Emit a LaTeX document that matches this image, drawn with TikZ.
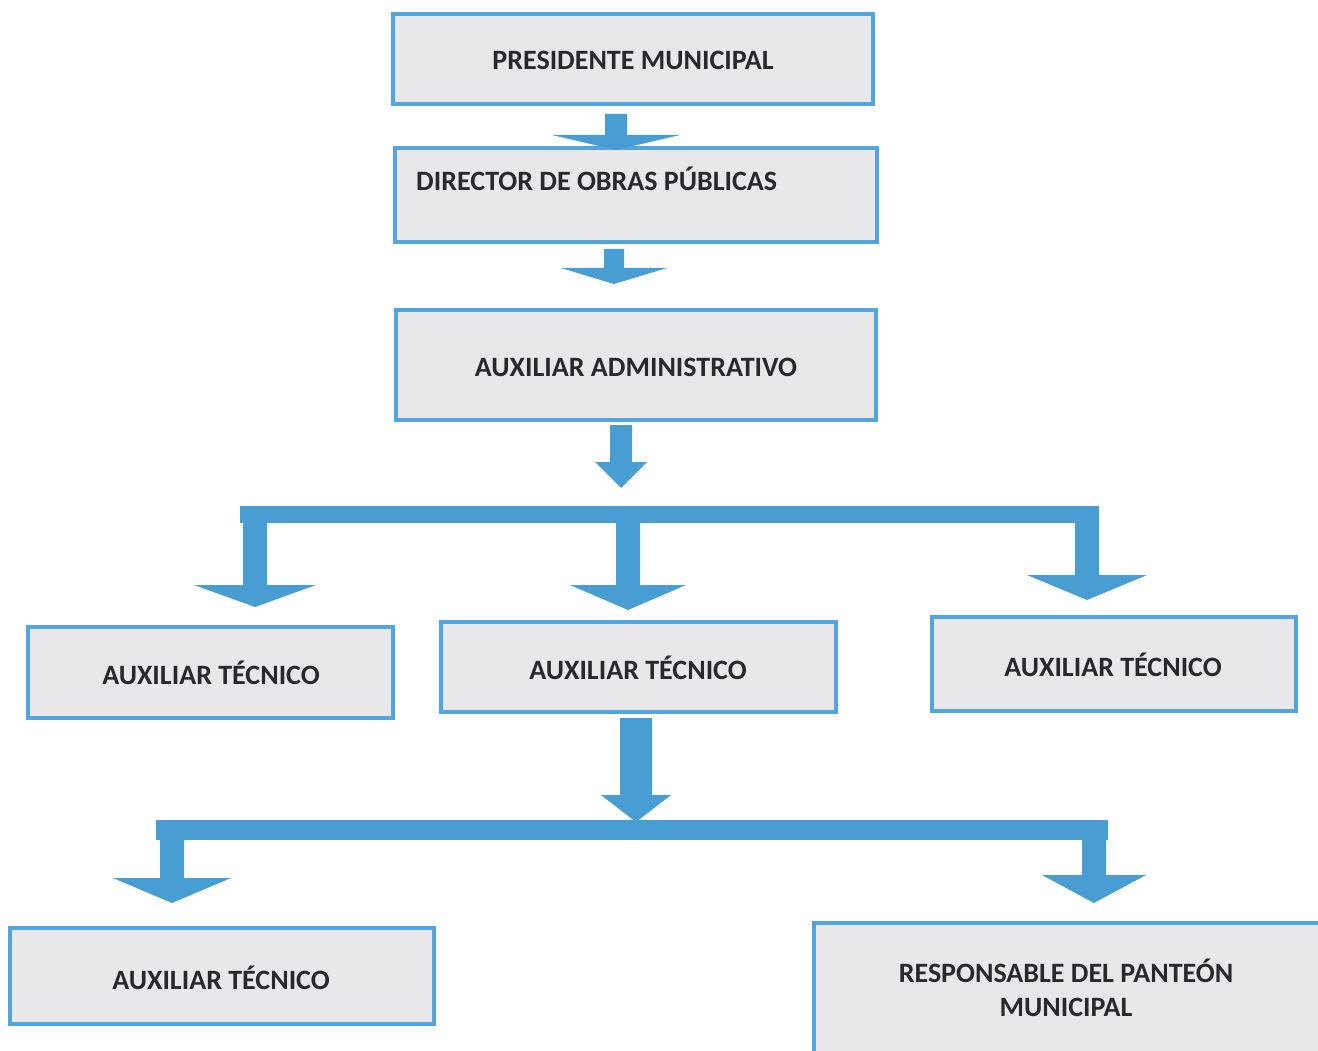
\documentclass[tikz,border=0pt]{standalone}
\usepackage{fontspec}
\setmainfont{Carlito}
\definecolor{boxline}{RGB}{82,165,222}
\definecolor{arrowblue}{RGB}{72,158,210}
\definecolor{marble}{RGB}{232,232,235}
\definecolor{txt}{RGB}{40,40,45}
\newcommand{\dnarrow}[6]{% x, ytop, yheadbase, ytip, shaft half width, head half width
  \fill[arrowblue] (#1-#5,#2) -- (#1+#5,#2) -- (#1+#5,#3) -- (#1+#6,#3) -- (#1,#4) -- (#1-#6,#3) -- (#1-#5,#3) -- cycle;}
\tikzset{
  orgbox/.style={draw=boxline, line width=3.5pt, fill=marble, rectangle, inner sep=0pt},
  lbl/.style={font=\fontsize{28}{34}\selectfont\bfseries, text=txt, align=center, inner sep=0pt},
}
\begin{document}
\begin{tikzpicture}[x=1pt,y=-1pt]
\useasboundingbox (0,0) rectangle (1318,1051);
\clip (0,0) rectangle (1318,1051);
\fill[white] (0,0) rectangle (1318,1051);

% boxes
\node[orgbox, minimum width=480pt, minimum height=90pt] (pres) at (633,59) {};
\node[lbl] (presT) at (633,60) {PRESIDENTE MUNICIPAL};

\node[orgbox, minimum width=482pt, minimum height=94pt] (dir) at (636,195) {};
\node[lbl, anchor=west] (dirT) at (416,179) {DIRECTOR DE OBRAS PÚBLICAS};

\node[orgbox, minimum width=480pt, minimum height=110pt] (adm) at (636,365) {};
\node[lbl] (admT) at (636,367) {AUXILIAR ADMINISTRATIVO};

\node[orgbox, minimum width=365pt, minimum height=91pt] (t1) at (210.5,672.5) {};
\node[lbl] (t1T) at (211,673) {AUXILIAR TÉCNICO};

\node[orgbox, minimum width=395pt, minimum height=90pt] (t2) at (638.5,667) {};
\node[lbl] (t2T) at (638,668) {AUXILIAR TÉCNICO};

\node[orgbox, minimum width=364pt, minimum height=94pt] (t3) at (1114,664) {};
\node[lbl] (t3T) at (1113,665) {AUXILIAR TÉCNICO};

\node[orgbox, minimum width=424pt, minimum height=96pt] (t4) at (222,976) {};
\node[lbl] (t4T) at (221,978) {AUXILIAR TÉCNICO};

\node[orgbox, minimum width=510pt, minimum height=132pt] (resp) at (1069,989) {};
\node[lbl] (respT) at (1066,988) {RESPONSABLE DEL PANTEÓN\\MUNICIPAL};

% block arrows
\dnarrow{616}{114}{135}{150}{11}{64}
\dnarrow{614}{249}{268}{284}{10}{53}
\dnarrow{621}{425}{462}{488}{11}{26}

% first bus
\fill[arrowblue] (240,506) rectangle (1099,523);
\dnarrow{255}{515}{585}{607}{12}{61}
\dnarrow{628}{515}{585}{610}{12}{58}
\dnarrow{1087}{515}{575}{600}{12}{60}

% from middle técnico
\dnarrow{636}{718}{795}{822}{16}{35}

% second bus
\fill[arrowblue] (156,820) rectangle (1108,840);
\dnarrow{172}{828}{878}{903}{12}{59}
\dnarrow{1094}{828}{875}{903}{12}{52}
\end{tikzpicture}
\end{document}
